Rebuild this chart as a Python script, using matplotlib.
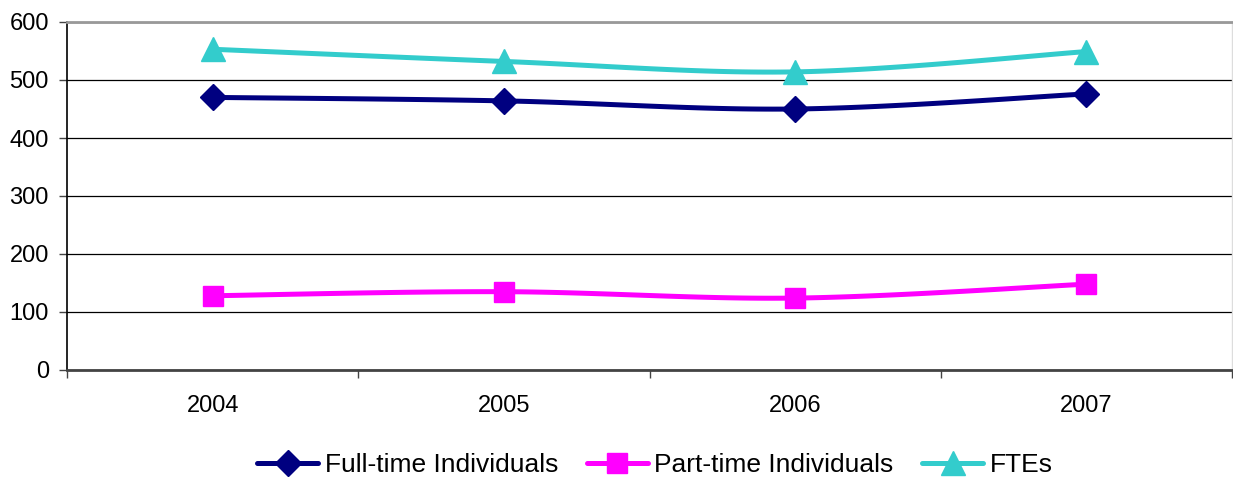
import numpy as np
import matplotlib
matplotlib.use('Agg')
from matplotlib import pyplot as plt

plt.rcParams['font.family'] = ['Liberation Sans', 'DejaVu Sans']

# data
years = ['2004', '2005', '2006', '2007']
full_time = [470, 464, 450, 476]
part_time = [128, 135, 124, 148]
ftes = [553, 532, 514, 549]

# smoothed curve through points (Bezier with Catmull-Rom style control points)
def smooth_curve(x, y, n=40):
    x = np.asarray(x, float)
    y = np.asarray(y, float)
    px = np.concatenate([[x[0]], x, [x[-1]]])
    py = np.concatenate([[y[0]], y, [y[-1]]])
    xs, ys = [], []
    t = np.linspace(0, 1, n)
    for i in range(len(x) - 1):
        p0 = np.array([px[i + 1], py[i + 1]])
        p3 = np.array([px[i + 2], py[i + 2]])
        p1 = p0 + (np.array([px[i + 2], py[i + 2]]) - np.array([px[i], py[i]])) / 6
        p2 = p3 - (np.array([px[i + 3], py[i + 3]]) - np.array([px[i + 1], py[i + 1]])) / 6
        b = ((1 - t) ** 3)[:, None] * p0 + (3 * (1 - t) ** 2 * t)[:, None] * p1 \
            + (3 * (1 - t) * t ** 2)[:, None] * p2 + (t ** 3)[:, None] * p3
        xs.extend(b[:, 0])
        ys.extend(b[:, 1])
    return np.array(xs), np.array(ys)

fig = plt.figure(figsize=(12.33, 4.79), dpi=100)
ax = fig.add_axes([67 / 1233, 1 - 370 / 479, 1165 / 1233, 348 / 479])

xpos = np.arange(len(years))
series = [
    (full_time, '#000080', 'D', 13, 'Full-time Individuals'),
    (part_time, '#FF00FF', 's', 15, 'Part-time Individuals'),
    (ftes, '#33CCCC', '^', 17, 'FTEs'),
]
handles = []
for vals, col, mk, ms, lab in series:
    sx, sy = smooth_curve(xpos, vals)
    ax.plot(sx, sy, color=col, lw=3.6, solid_capstyle='round', zorder=3)
    ax.plot(xpos, vals, linestyle='none', marker=mk, ms=ms, color=col, zorder=4)
    h, = ax.plot([], [], color=col, lw=3.6, marker=mk, ms=ms, label=lab,
                 solid_capstyle='round')
    handles.append(h)

ax.set_xlim(-0.5, 3.5)
ax.set_ylim(0, 600)
ax.set_yticks(np.arange(0, 700, 100))
ax.yaxis.grid(True, color='black', lw=0.9)
ax.set_axisbelow(True)

ax.set_xticks(xpos)
ax.set_xticklabels(years)
ax.set_xticks(np.arange(-0.5, 4, 1), minor=True)
ax.tick_params(axis='x', which='major', length=0, pad=18, labelsize=17)
ax.tick_params(axis='x', which='minor', length=6, width=1, color='#444444')
ax.tick_params(axis='y', length=6, width=1, color='#444444', labelsize=17, pad=7)

ax.spines['left'].set_color('black')
ax.spines['left'].set_linewidth(1.2)
ax.spines['bottom'].set_color('#444444')
ax.spines['bottom'].set_linewidth(2)
ax.spines['top'].set_color('#999999')
ax.spines['top'].set_linewidth(2)
ax.spines['right'].set_color('#dddddd')
ax.spines['right'].set_linewidth(1)

fig.legend(handles=handles, loc='center', bbox_to_anchor=(655 / 1233, 1 - 465 / 479),
           ncol=3, frameon=False, fontsize=19, handlelength=2.3, handletextpad=0.25,
           columnspacing=1.1)

fig.savefig('out.png', dpi=100)
